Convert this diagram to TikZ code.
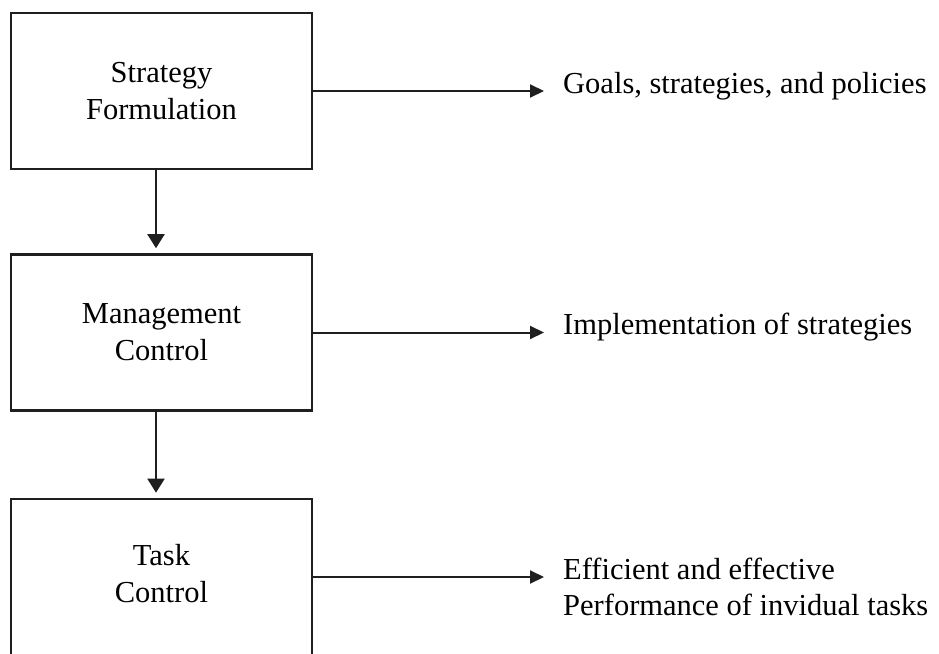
\documentclass[tikz,border=0pt]{standalone}
\usepackage{fontspec}
\setmainfont{Liberation Serif}
\usetikzlibrary{arrows.meta}
\begin{document}
\begin{tikzpicture}[x=1pt,y=-1pt,
  stage/.style={draw=black!88, line width=2.6pt, minimum width=301pt, minimum height=156pt,
    inner sep=0pt, align=center, font=\fontsize{30.5}{37}\selectfont},
  outcome/.style={anchor=mid west, inner sep=0pt, font=\fontsize{30.5}{36}\selectfont},
  flow/.style={draw=black!88, line width=2pt, -{Triangle[width=17pt,length=14pt]}, shorten >=5pt},
  result/.style={draw=black!88, line width=2pt, -{Triangle[width=13pt,length=14pt]}, shorten >=19pt}]
\useasboundingbox (0,0) rectangle (939,653);
\clip (0,0) rectangle (939,653);

% three control levels
\node[stage] (s1) at (161.5,91)    {Strategy\\Formulation};
\node[stage] (s2) at (161.5,332.5) {Management\\Control};
\node[stage] (s3) at (161.5,577)   {\raisebox{8pt}{\begin{tabular}{@{}c@{}}Task\\Control\end{tabular}}};

% what each level delivers
\node[outcome] (o1) at (563,91)    {Goals, strategies, and policies};
\node[outcome] (o2) at (563,332.5) {Implementation of strategies};
\node[outcome] (o3) at (563,577)   {\begin{tabular}[t]{@{}l@{}}Efficient and effective\\Performance of invidual tasks\end{tabular}};

% downward flow between levels
\draw[flow] ([xshift=-5.5pt]s1.south) -- ([xshift=-5.5pt]s2.north);
\draw[flow] ([xshift=-5.5pt]s2.south) -- ([xshift=-5.5pt]s3.north);

% outputs of each level
\draw[result] (s1.east) -- (s1.east -| o1.west);
\draw[result] (s2.east) -- (s2.east -| o2.west);
\draw[result] (s3.east) -- (s3.east -| o3.west);
\end{tikzpicture}
\end{document}
